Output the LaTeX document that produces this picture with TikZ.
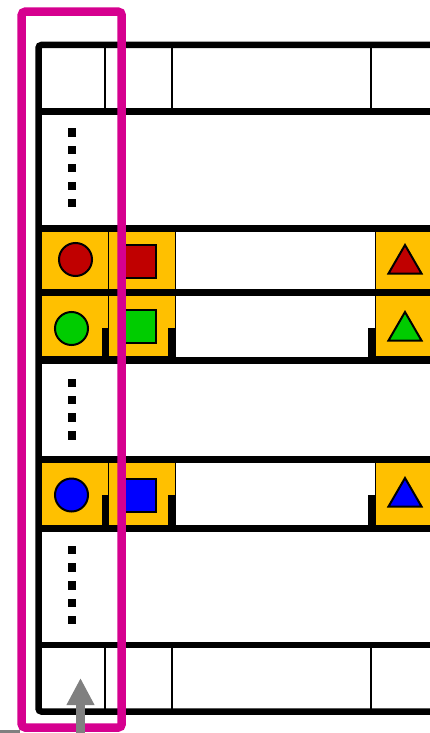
\documentclass[tikz,border=0pt]{standalone}
\usetikzlibrary{arrows.meta}
\definecolor{cellyellow}{RGB}{255,192,0}
\definecolor{shred}{RGB}{192,0,0}
\definecolor{shgreen}{RGB}{0,204,0}
\definecolor{shblue}{RGB}{0,0,255}
\definecolor{hlpink}{RGB}{214,0,143}
\definecolor{arrgrey}{RGB}{128,128,128}
\begin{document}
\begin{tikzpicture}[x=1pt,y=-1pt,
  rowline/.style={line width=6.5pt},
  colline/.style={line width=2pt},
  ycell/.style={fill=cellyellow,draw=black,line width=1.5pt},
  symb/.style={draw=black,line width=2pt},
  roundsymb/.style={symb,circle,minimum size=33pt,inner sep=0pt}]
\useasboundingbox (0,0) rectangle (430,733);
\clip (0,0) rectangle (430,733);

% yellow cells of the three coloured rows
\foreach \ya/\yb in {231/290, 295/357, 462/526}{
  \filldraw[ycell] (41.7,\ya) rectangle (108.7,\yb);
  \filldraw[ycell] (108.7,\ya) rectangle (175.5,\yb);
  \filldraw[ycell] (375.5,\ya) rectangle (440,\yb);
}

% notches at lower right of cells (green and blue rows)
\foreach \ya/\yb in {328.3/360, 495/528}{
  \fill (101.7,\ya) rectangle (108.7,\yb);
  \fill (168.3,\ya) rectangle (175.5,\yb);
  \fill (368.3,\ya) rectangle (375.5,\yb);
}

% circles
\node[roundsymb,fill=shred] (c1) at (75.5,259.5) {};
\node[roundsymb,fill=shgreen] (c2) at (71.5,328.5) {};
\node[roundsymb,fill=shblue] (c3) at (71.5,495) {};
% squares
\filldraw[symb,fill=shred] (122,244.5) rectangle (156,277.5);
\filldraw[symb,fill=shgreen] (122,309.5) rectangle (156,342.5);
\filldraw[symb,fill=shblue] (122,478.5) rectangle (156,511.5);
% triangles
\filldraw[symb,fill=shred,line join=miter] (388.5,273.5) -- (405,245) -- (421.5,273.5) -- cycle;
\filldraw[symb,fill=shgreen,line join=miter] (388.5,340.5) -- (405,312) -- (421.5,340.5) -- cycle;
\filldraw[symb,fill=shblue,line join=miter] (388.5,506.5) -- (405,478) -- (421.5,506.5) -- cycle;

% vertical dots
\foreach \y in {132.5,150,168,186,203,383,400,417.5,435.5,550,567.5,585.5,603,620}{
  \fill (67.5,\y-4.2) rectangle (76,\y+4.2);
}

% thin column lines in top and bottom rows
\foreach \x in {105,171.5,371}{
  \draw[colline] (\x,45) -- (\x,111.5);
  \draw[colline] (\x,645) -- (\x,711.5);
}

% row lines
\foreach \y in {111.5,228.5,292.5,360.5,459.5,528.5,645}{
  \draw[rowline] (38.5,\y) -- (440,\y);
}
% outer frame
\draw[rowline,rounded corners=3pt] (440,45) -- (38.5,45) -- (38.5,711.5) -- (440,711.5);

% grey line at bottom left
\draw[arrgrey,line width=2.5pt] (0,731.5) -- (20,731.5);

% pink highlight
\draw[hlpink,line width=8.5pt,rounded corners=3.5pt] (21.7,11.7) rectangle (121.7,727.5);

% grey arrow
\coordinate (arrfrom) at (80.5,740);
\coordinate (arrto) at (80.5,678);
\draw[arrgrey,line width=9pt,-{Triangle[length=27pt,width=26pt]}] (arrfrom) -- (arrto);
\end{tikzpicture}
\end{document}
